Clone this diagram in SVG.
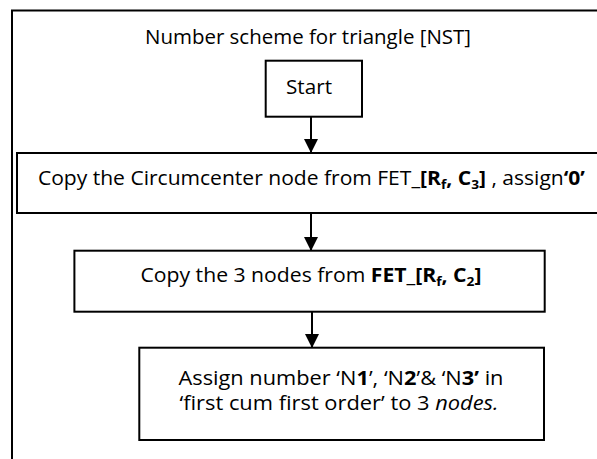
<svg xmlns="http://www.w3.org/2000/svg" width="597" height="459" viewBox="0 0 597 459">
<style>
.box{fill:#fff;stroke:#000;stroke-width:2}
.frame{fill:#fff;stroke:#000;stroke-width:2}
.t{font-family:"Open Sans","Liberation Sans",sans-serif;font-size:20px;fill:#000;text-anchor:middle}
.b{font-weight:bold}
.i{font-style:italic}
.sub{font-size:13px}
.conn{stroke:#000;stroke-width:2;fill:none}
</style>
<defs>
<marker id="ah" markerUnits="userSpaceOnUse" markerWidth="14" markerHeight="14" refX="14" refY="7" orient="auto">
<path d="M0,0 L14,7 L0,14 z" fill="#000"/>
</marker>
</defs>
<rect class="frame" x="12" y="10.5" width="620" height="480"/>
<text class="t" x="308" y="44" textLength="326" lengthAdjust="spacingAndGlyphs">Number scheme for triangle [NST]</text>
<g id="connectors">
<line class="conn" x1="311" y1="117" x2="311" y2="153" marker-end="url(#ah)"/>
<line class="conn" x1="311" y1="213" x2="311" y2="251" marker-end="url(#ah)"/>
<line class="conn" x1="312" y1="312" x2="312" y2="348" marker-end="url(#ah)"/>
</g>
<g id="start">
<rect class="box" x="265.7" y="60.7" width="96.3" height="56"/>
<text class="t" x="309" y="94" textLength="46" lengthAdjust="spacingAndGlyphs">Start</text>
</g>
<g id="copy-circumcenter">
<rect class="box" x="17" y="153" width="620" height="60"/>
<text class="t" x="311.4" y="185" textLength="547" lengthAdjust="spacingAndGlyphs">Copy the Circumcenter node from FET<tspan class="b">_[R<tspan class="sub" dy="4">f</tspan><tspan dy="-4">, C</tspan><tspan class="sub" dy="4">3</tspan><tspan dy="-4">]</tspan></tspan> , assign<tspan class="b">‘0’</tspan></text>
</g>
<g id="copy-three">
<rect class="box" x="74.4" y="250.7" width="470.3" height="61"/>
<text class="t" x="311" y="282" textLength="341" lengthAdjust="spacingAndGlyphs">Copy the 3 nodes from <tspan class="b">FET_[R<tspan class="sub" dy="4">f</tspan><tspan dy="-4">, C</tspan><tspan class="sub" dy="4">2</tspan><tspan dy="-4">]</tspan></tspan></text>
</g>
<g id="assign-numbers">
<rect class="box" x="139.3" y="347.7" width="404.7" height="92.3"/>
<text class="t" x="341" y="385" textLength="325" lengthAdjust="spacingAndGlyphs">Assign number ‘N<tspan class="b">1</tspan>’, ‘N<tspan class="b">2</tspan>’&amp; ‘N<tspan class="b">3’</tspan> in</text>
<text class="t" x="339" y="410" textLength="319" lengthAdjust="spacingAndGlyphs">‘first cum first order’ to 3 <tspan class="i">nodes.</tspan></text>
</g>
</svg>
